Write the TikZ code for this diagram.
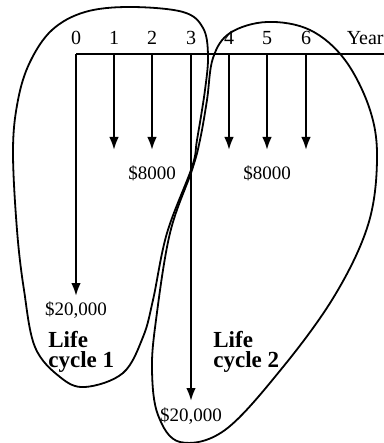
\documentclass[tikz,border=0pt]{standalone}
\usepackage{fontspec}
\setmainfont{Liberation Serif}
\usetikzlibrary{arrows.meta}
\tikzset{
  lbl/.style={inner sep=0pt, font=\fontsize{10}{12}\selectfont},
  amt/.style={inner sep=0pt, font=\fontsize{9.5}{11}\selectfont},
  cyc/.style={inner sep=0pt, align=left, font=\fontsize{11.5}{10}\selectfont\bfseries},
  flow/.style={line width=1.1pt, -{Latex[length=6.5pt,width=4.8pt]}},
  cyclecurve/.style={line width=0.9pt, smooth cycle, tension=0.6},
}
\begin{document}
\begin{tikzpicture}[x=0.5pt, y=-0.5pt]
\useasboundingbox (0,0) rectangle (384,443);
% year labels
\node (n0) [lbl, anchor=base] at (76,45) {0};
\node (n1) [lbl, anchor=base] at (114,45) {1};
\node (n2) [lbl, anchor=base] at (152,45) {2};
\node (n3) [lbl, anchor=base] at (191,45) {3};
\node (n4) [lbl, anchor=base] at (229,45) {4};
\node (n5) [lbl, anchor=base] at (267,45) {5};
\node (n6) [lbl, anchor=base] at (306,45) {6};
\node (yr) [lbl, anchor=base east] at (384,45) {Year};
% axis
\coordinate (t0) at (76,54);
\coordinate (t1) at (114,54);
\coordinate (t2) at (152,54);
\coordinate (t3) at (191,54);
\coordinate (t4) at (229,54);
\coordinate (t5) at (267,54);
\coordinate (t6) at (306,54);
\coordinate (tend) at (392,54);
\draw[line width=0.6pt] (t0) -- (tend);
% cash flows
\coordinate (e0) at (76,296);
\coordinate (e1) at (114,150);
\coordinate (e2) at (152,150);
\coordinate (e3) at (191,401);
\coordinate (e4) at (229,150);
\coordinate (e5) at (267,150);
\coordinate (e6) at (306,150);
\draw[flow] (t0) -- (e0);
\draw[flow] (t1) -- (e1);
\draw[flow] (t2) -- (e2);
\draw[flow] (t3) -- (e3);
\draw[flow] (t4) -- (e4);
\draw[flow] (t5) -- (e5);
\draw[flow] (t6) -- (e6);
% amounts
\node (a1) [amt, anchor=base] at (152,179) {\$8000};
\node (a2) [amt, anchor=base] at (267,179) {\$8000};
\node (a0) [amt, anchor=base] at (76,315) {\$20,000};
\node (a3) [amt, anchor=base] at (191,421) {\$20,000};
% life cycles
\node (c1) [cyc, anchor=north west] at (48,331) {Life\\cycle 1};
\node (c2) [cyc, anchor=north west] at (213,331) {Life\\cycle 2};
\draw[cyclecurve] plot coordinates {(192,167) (197,140) (205,90) (208,55) (203,28) (183,12) (130,7)
  (85,12) (52,30) (30,62) (18,100) (13,150) (17,230) (24,290) (35,347) (60,377) (85,387) (123,373)
  (143,337) (153,300) (167,233)};
\draw[cyclecurve] plot coordinates {(192,170) (200,140) (207,100) (213,58) (230,33) (267,22)
  (310,30) (345,60) (370,110) (377,160) (368,225) (335,295) (283,367) (225,430) (180,442)
  (158,415) (152,370) (156,320) (170,233)};
\end{tikzpicture}
\end{document}
